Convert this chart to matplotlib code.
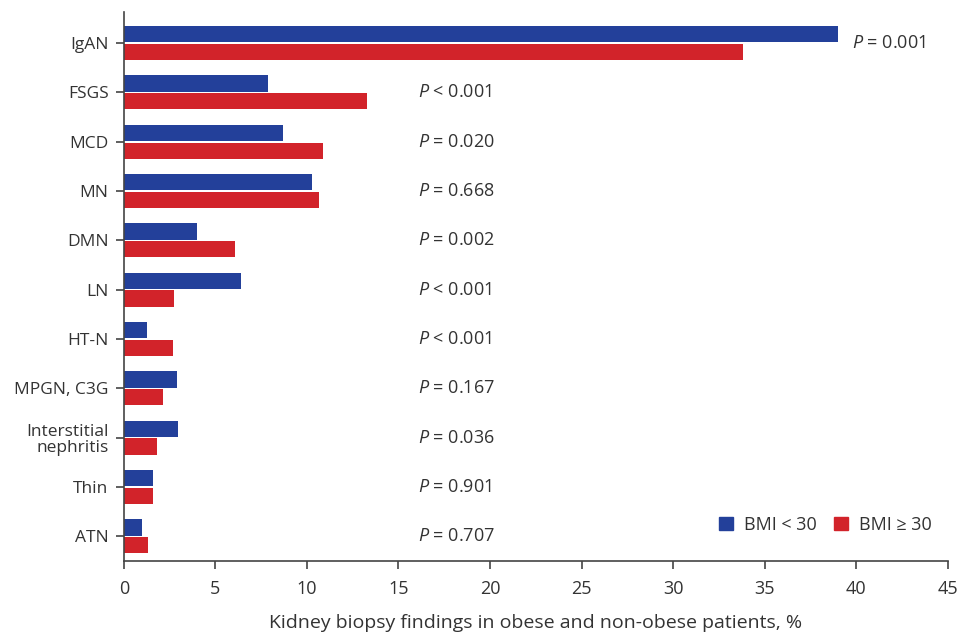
import numpy as np
import matplotlib
matplotlib.use('Agg')
from matplotlib import pyplot as plt
from matplotlib.patches import Patch

plt.rcParams['font.family'] = ['Open Sans', 'DejaVu Sans']
plt.rcParams['mathtext.fontset'] = 'custom'
plt.rcParams['mathtext.rm'] = 'Open Sans'
plt.rcParams['mathtext.it'] = 'Open Sans:italic'

# data
categories = ['IgAN', 'FSGS', 'MCD', 'MN', 'DMN', 'LN', 'HT-N', 'MPGN, C3G',
              'Interstitial\nnephritis', 'Thin', 'ATN']
bmi_lt30 = [39.0, 7.9, 8.7, 10.3, 4.0, 6.4, 1.25, 2.9, 2.95, 1.58, 0.98]
bmi_ge30 = [33.8, 13.3, 10.9, 10.65, 6.05, 2.73, 2.68, 2.13, 1.8, 1.58, 1.3]
p_values = ['= 0.001', '< 0.001', '= 0.020', '= 0.668', '= 0.002', '< 0.001',
            '< 0.001', '= 0.167', '= 0.036', '= 0.901', '= 0.707']
x_ticks = [0, 5, 10, 15, 20, 25, 30, 35, 40, 45]

blue = '#23409a'
red = '#d2232a'
txt = '#333333'

fig = plt.figure(figsize=(9.75, 6.36), dpi=100)
ax = fig.add_axes([0.127, 0.118, 0.845, 0.863])

y = np.arange(len(categories))
h = 0.33
ax.barh(y - 0.18, bmi_lt30, height=h, color=blue)
ax.barh(y + 0.18, bmi_ge30, height=h, color=red)

for i, p in enumerate(p_values):
    if i == 0:
        xp = 39.8
    else:
        xp = 16.05
    ax.text(xp, y[i], '$P$ ' + p, va='center', ha='left', fontsize=13, color=txt)

ax.set_ylim(len(categories) - 0.5, -0.63)
ax.set_xlim(0, 45)
ax.set_yticks(y)
ax.set_yticklabels(categories, fontsize=12.5, color=txt, linespacing=1.0)
ax.set_xticks(x_ticks)
ax.set_xticklabels([str(t) for t in x_ticks], fontsize=13, color=txt)
ax.set_xlabel('Kidney biopsy findings in obese and non-obese patients, %',
              fontsize=14, color=txt, labelpad=11)

for s in ['top', 'right']:
    ax.spines[s].set_visible(False)
for s in ['left', 'bottom']:
    ax.spines[s].set_color('#444444')
    ax.spines[s].set_linewidth(1.2)
ax.tick_params(axis='both', direction='out', length=6, width=1.2, color='#444444')
ax.tick_params(axis='y', pad=5)
ax.tick_params(axis='x', pad=8)

handles = [Patch(color=blue, label='BMI < 30'), Patch(color=red, label='BMI ≥ 30')]
ax.legend(handles=handles, loc='lower right', bbox_to_anchor=(1.0, 0.02), ncol=2,
          frameon=False, fontsize=13, handlelength=0.75, handleheight=0.75,
          handletextpad=0.6, columnspacing=1.0, labelcolor=txt)

plt.savefig('out.png', dpi=100)
